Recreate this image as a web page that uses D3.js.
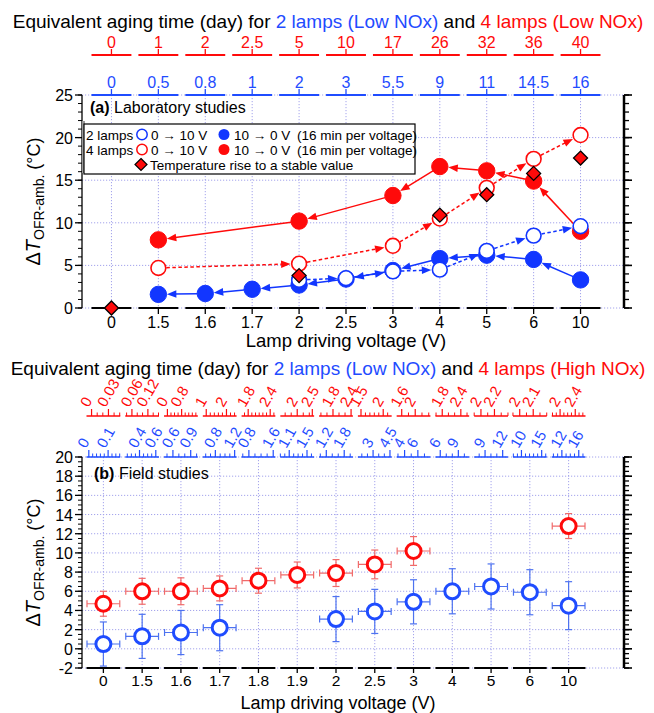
<!DOCTYPE html>
<html>
<head>
<meta charset="utf-8">
<script src="https://cdn.jsdelivr.net/npm/d3@7"></script>
<style>
  body { margin: 0; background: #fff; }
  svg text { font-family: "Liberation Sans", Arimo, Arial, sans-serif; }
</style>
</head>
<body>
<svg id="chart" width="654" height="713" font-family="Liberation Sans, Arimo, Arial, sans-serif"></svg>
<script>
//============== data ===============//

// (a) laboratory studies
const catsA = ["0", "1.5", "1.6", "1.7", "2", "2.5", "3", "4", "5", "6", "10"];
const redDaysA = ["0", "1", "2", "2.5", "5", "10", "17", "26", "32", "36", "40"];
const blueDaysA = ["0", "0.5", "0.8", "1", "2", "3", "5.5", "9", "11", "14.5", "16"];
const blueUpA   = [null, null, null, null, 3.3, 3.5, 4.3, 4.5, 6.7, 8.5, 9.6];   // 2 lamps 0 -> 10 V
const blueDownA = [null, 1.6, 1.7, 2.2, 2.7, 3.4, 4.4, 5.8, 6.2, 5.7, 3.3];      // 2 lamps 10 -> 0 V
const redUpA    = [null, 4.7, null, null, 5.2, null, 7.3, 10.5, 14.1, 17.5, 20.3]; // 4 lamps 0 -> 10 V
const redDownA  = [null, 8.0, null, null, 10.2, null, 13.2, 16.6, 16.1, 14.9, 9.0]; // 4 lamps 10 -> 0 V
const stableA   = [0, null, null, null, 3.8, null, null, 10.9, 13.3, 15.8, 17.6];

// (b) field studies
const catsB = ["0", "1.5", "1.6", "1.7", "1.8", "1.9", "2", "2.5", "3", "4", "5", "6", "10"];
const blueB    = [0.5, 1.3, 1.7, 2.2, null, null, 3.1, 3.9, 4.9, 6.0, 6.5, 5.9, 4.5];
const blueErrB = [2.3, 2.3, 2.3, 2.4, null, null, 2.35, 2.3, 2.3, 2.35, 2.35, 2.35, 2.5];
const redB     = [4.7, 6.0, 6.0, 6.3, 7.1, 7.7, 7.9, 8.8, 10.2, null, null, null, 12.8];
const redErrB  = [1.3, 1.35, 1.4, 1.3, 1.3, 1.35, 1.4, 1.5, 1.5, null, null, null, 1.3];

// aging time axes of (b): labelled ticks and span of each small axis (days)
const blueTicksB = [[0, 0.1], [0.4, 0.6], [0.6, 0.9], [0.8, 1.2], [0.8, 1.6], [1.1, 1.5], [1.2, 1.8],
                    [3, 4.5], [4, 6], [6, 9], [9, 12], [10, 15], [12, 16]];
const blueDomB = [[-0.012, 0.163], [0.225, 0.64], [0.45, 1.02], [0.54, 1.24], [0.56, 1.67], [0.9, 1.66], [0.96, 2.09],
                  [1.65, 4.65], [2.8, 7.9], [5.2, 10.8], [7.15, 12.9], [7.9, 16.25], [9.6, 17.6]];
const redTicksB = [[0, 0.03], [0.06, 0.12], [0, 0.8], [1, 2], [1.8, 2.4], [2, 2.5], [1.8, 2.4],
                   [1.5, 2], [1.6, 2], [1.8, 2.4], [2, 2.2], [2, 2.1], [2, 2.4]];
const redDomB = [[-0.009, 0.051], [0.035, 0.162], [-0.19, 1.71], [0.83, 2.5], [1.62, 2.54], [1.44, 2.56], [1.34, 2.46],
                 [1.43, 2.19], [1.45, 2.45], [1.58, 2.67], [1.9, 2.4], [1.95, 2.2], [1.78, 2.67]];

//============== env ===============//

const BLUE = "#1236ff", RED = "#ff0a0a", BLUE_T = "#1f4cff";
const GRID = "#a4a4ec";
const svg = d3.select("#chart");
const plotLeft = 82, plotRight = 624;

// ---- helpers
function title(y, redTail) {
  const t = svg.append("text").attr("x", 328).attr("y", y)
    .attr("text-anchor", "middle").style("font-size", "19px");
  t.append("tspan").attr("fill", "#000").text("Equivalent aging time (day) for ");
  t.append("tspan").attr("fill", BLUE_T).text("2 lamps (Low NOx)");
  t.append("tspan").attr("fill", "#000").text(" and ");
  t.append("tspan").attr("fill", RED).text("4 lamps (" + redTail + ")");
}

function xLabel(y, x, size) {
  svg.append("text").attr("x", x).attr("y", y).attr("text-anchor", "middle")
    .style("font-size", size + "px").text("Lamp driving voltage (V)");
}

function yLabel(cy) {
  const t = svg.append("text")
    .attr("transform", `translate(40,${cy}) rotate(-90)`)
    .attr("text-anchor", "middle").style("font-size", "20px");
  t.append("tspan").text("Δ");
  t.append("tspan").style("font-style", "italic").text("T");
  t.append("tspan").attr("dy", 4).style("font-size", "14px").text("OFR-amb.");
  t.append("tspan").attr("dy", -4).style("font-size", "18px").text(" (°C)");
}

function frame(y, top, bottom, major, minor, labelFmt) {
  const g = svg.append("g");
  // grid
  g.selectAll("hgrid").data(major).join("line")
    .attr("x1", plotLeft).attr("x2", plotRight)
    .attr("y1", d => y(d)).attr("y2", d => y(d))
    .attr("stroke", GRID).attr("stroke-dasharray", "1.2,1.8").attr("stroke-width", 1);
  // left axis
  g.append("line").attr("x1", plotLeft).attr("x2", plotLeft).attr("y1", top).attr("y2", bottom)
    .attr("stroke", "#000").attr("stroke-width", 1.3);
  g.selectAll("lmin").data(minor).join("line")
    .attr("x1", plotLeft - 4).attr("x2", plotLeft).attr("y1", d => y(d)).attr("y2", d => y(d))
    .attr("stroke", "#000").attr("stroke-width", 1);
  g.selectAll("lmaj").data(major).join("line")
    .attr("x1", plotLeft - 7).attr("x2", plotLeft).attr("y1", d => y(d)).attr("y2", d => y(d))
    .attr("stroke", "#000").attr("stroke-width", 1.3);
  g.selectAll("llab").data(major).join("text")
    .attr("x", plotLeft - 9).attr("y", d => y(d) + 6)
    .attr("text-anchor", "end").style("font-size", "16px").text(labelFmt);
  // right axis (no labels)
  g.append("line").attr("x1", plotRight).attr("x2", plotRight).attr("y1", top).attr("y2", bottom)
    .attr("stroke", "#000").attr("stroke-width", 2.5);
  g.selectAll("rmin").data(minor).join("line")
    .attr("x1", plotRight).attr("x2", plotRight + 5).attr("y1", d => y(d)).attr("y2", d => y(d))
    .attr("stroke", "#000").attr("stroke-width", 1.3);
  g.selectAll("rmaj").data(major).join("line")
    .attr("x1", plotRight).attr("x2", plotRight + 8).attr("y1", d => y(d)).attr("y2", d => y(d))
    .attr("stroke", "#000").attr("stroke-width", 1.6);
}

function vgrid(x, cats, top, bottom) {
  svg.append("g").selectAll("line").data(cats).join("line")
    .attr("x1", d => x(d) + x.bandwidth() / 2).attr("x2", d => x(d) + x.bandwidth() / 2)
    .attr("y1", top).attr("y2", bottom)
    .attr("stroke", GRID).attr("stroke-dasharray", "1.2,1.8").attr("stroke-width", 1);
}

// broken category axis: one short segment per category, tick in the middle
function segAxis(x, cats, yLine, color, dir, gap, labels, labelGap, width, tick, fs) {
  const g = svg.append("g");
  const bw = x.bandwidth();
  g.selectAll("seg").data(cats).join("line")
    .attr("x1", d => x(d) + gap / 2).attr("x2", d => x(d) + bw - gap / 2)
    .attr("y1", yLine).attr("y2", yLine)
    .attr("stroke", color).attr("stroke-width", width);
  g.selectAll("tk").data(cats).join("line")
    .attr("x1", d => x(d) + bw / 2).attr("x2", d => x(d) + bw / 2)
    .attr("y1", yLine).attr("y2", yLine + dir * tick)
    .attr("stroke", color).attr("stroke-width", 1.3);
  if (labels) {
    g.selectAll("lb").data(cats).join("text")
      .attr("x", d => x(d) + bw / 2).attr("y", yLine + labelGap)
      .attr("text-anchor", "middle").attr("fill", color).style("font-size", (fs || 16) + "px")
      .text((d, i) => labels[i]);
  }
}

function arrow(g, p, q, r0, r1, color, dashed) {
  const dx = q[0] - p[0], dy = q[1] - p[1], L = Math.hypot(dx, dy);
  const ux = dx / L, uy = dy / L;
  const sx = p[0] + ux * r0, sy = p[1] + uy * r0;
  const ex = q[0] - ux * r1, ey = q[1] - uy * r1;
  const hl = 9.5, hw = 3.8;
  g.append("line").attr("x1", sx).attr("y1", sy)
    .attr("x2", ex - ux * hl * 0.7).attr("y2", ey - uy * hl * 0.7)
    .attr("stroke", color).attr("stroke-width", 1.5)
    .attr("stroke-dasharray", dashed ? "3.5,2.5" : null);
  g.append("path")
    .attr("d", `M${ex},${ey}L${ex - ux * hl - uy * hw},${ey - uy * hl + ux * hw}` +
               `L${ex - ux * hl + uy * hw},${ey - uy * hl - ux * hw}Z`)
    .attr("fill", color);
}

function diamond(cx, cy, s) {
  return `M${cx},${cy - s}L${cx + s},${cy}L${cx},${cy + s}L${cx - s},${cy}Z`;
}

//============== (a) laboratory studies ===============//

const topA = 95, botA = 308;
const xA = d3.scaleBand().domain(catsA).range([88, 604]);
const yA = d3.scaleLinear().domain([0, 25]).range([botA, topA]);
const cA = i => xA(catsA[i]) + xA.bandwidth() / 2;

title(28, "Low NOx");
vgrid(xA, catsA, topA, botA);
frame(yA, topA, botA, d3.range(0, 26, 5), d3.range(0, 26, 1), d => d);
segAxis(xA, catsA, 55, RED, -1, 7, redDaysA, -7, 2, 6);
segAxis(xA, catsA, topA, BLUE_T, -1, 7, blueDaysA, -7, 2, 6);
segAxis(xA, catsA, botA, "#000", 1, 7, catsA, 20, 2, 6);
xLabel(347, 346, 18.5);
yLabel((topA + botA) / 2);

svg.append("text").attr("x", 90).attr("y", 113).style("font-size", "16px")
  .html('<tspan font-weight="bold">(a)</tspan> Laboratory studies');

// connected series with arrows in the scan direction
function series(vals, color, dashed, reverse) {
  const g = svg.append("g");
  let pts = vals.map((v, i) => v == null ? null : [cA(i), yA(v)]).filter(p => p);
  if (reverse) pts = pts.slice().reverse();
  for (let k = 0; k < pts.length - 1; k++) arrow(g, pts[k], pts[k + 1], 8, 8.5, color, dashed);
}
function dots(vals, color, filled) {
  svg.append("g").selectAll("circle").data(vals.map((v, i) => [i, v]).filter(d => d[1] != null))
    .join("circle")
    .attr("cx", d => cA(d[0])).attr("cy", d => yA(d[1]))
    .attr("r", filled ? 8.2 : 7.4)
    .attr("fill", filled ? color : "#fff")
    .attr("stroke", color).attr("stroke-width", filled ? 1 : 1.6);
}

series(redUpA, RED, true, false);
dots(redUpA, RED, false);
series(redDownA, RED, false, true);
dots(redDownA, RED, true);
series(blueDownA, BLUE, false, true);
dots(blueDownA, BLUE, true);
series(blueUpA, BLUE, true, false);
dots(blueUpA, BLUE, false);

svg.append("g").selectAll("path").data(stableA.map((v, i) => [i, v]).filter(d => d[1] != null))
  .join("path")
  .attr("d", d => diamond(cA(d[0]), yA(d[1]), 7))
  .attr("fill", RED).attr("stroke", "#000").attr("stroke-width", 1.3);

// legend
const lg = svg.append("g");
lg.append("rect").attr("x", 82).attr("y", 121).attr("width", 3).attr("height", 52).attr("fill", "#999");
lg.append("rect").attr("x", 84).attr("y", 124).attr("width", 331).attr("height", 50)
  .attr("fill", "#fff").attr("stroke", "#000").attr("stroke-width", 1.2);
[[BLUE, "2 lamps", 139.5], [RED, "4 lamps", 154.5]].forEach(([c, name, yy]) => {
  lg.append("text").attr("x", 86).attr("y", yy).style("font-size", "13.5px").text(name);
  lg.append("circle").attr("cx", 142).attr("cy", yy - 5).attr("r", 5.2)
    .attr("fill", "#fff").attr("stroke", c).attr("stroke-width", 1.5);
  lg.append("text").attr("x", 151).attr("y", yy).style("font-size", "13.5px").text("0 → 10 V");
  lg.append("circle").attr("cx", 224).attr("cy", yy - 5).attr("r", 5.5).attr("fill", c);
  lg.append("text").attr("x", 234).attr("y", yy).style("font-size", "13.5px").text("10 → 0 V");
  lg.append("text").attr("x", 297).attr("y", yy).style("font-size", "13.5px").text("(16 min per voltage)");
});
lg.append("path").attr("d", diamond(141, 164.5, 6)).attr("fill", RED).attr("stroke", "#000").attr("stroke-width", 1.2);
lg.append("text").attr("x", 150).attr("y", 169.5).style("font-size", "13.5px")
  .text("Temperature rise to a stable value");

//============== (b) field studies ===============//

const topB = 457, botB = 668;
const xB = d3.scaleBand().domain(catsB).range([84, 588]);
const yB = d3.scaleLinear().domain([-2, 20]).range([botB, topB]);
const cB = i => xB(catsB[i]) + xB.bandwidth() / 2;

title(375, "High NOx");
vgrid(xB, catsB, topB, botB);
frame(yB, topB, botB, d3.range(-2, 21, 2), d3.range(-2, 20.01, 0.5), d => d);
segAxis(xB, catsB, botB, "#000", 1, 5, catsB, 18, 2, 5, 15.5);
xLabel(709, 338, 18);
yLabel((topB + botB) / 2);

// small aging-time axes on top, one per voltage
function agingAxes(yLine, doms, ticks, color) {
  const g = svg.append("g");
  const bw = xB.bandwidth();
  catsB.forEach((c, i) => {
    const s = d3.scaleLinear().domain(doms[i]).range([xB(c) + 2.5, xB(c) + bw - 2.5]);
    g.append("line").attr("x1", s.range()[0]).attr("x2", s.range()[1])
      .attr("y1", yLine).attr("y2", yLine).attr("stroke", color).attr("stroke-width", 1.6);
    const minor = s.ticks(7).filter(t => !ticks[i].some(m => Math.abs(m - t) < 1e-9));
    g.selectAll("mn").data(minor).join("line")
      .attr("x1", d => s(d)).attr("x2", d => s(d)).attr("y1", yLine).attr("y2", yLine - 3.5)
      .attr("stroke", color).attr("stroke-width", 1);
    g.selectAll("mj").data(ticks[i]).join("line")
      .attr("x1", d => s(d)).attr("x2", d => s(d)).attr("y1", yLine).attr("y2", yLine - 7)
      .attr("stroke", color).attr("stroke-width", 1.2);
    g.selectAll("lb").data(ticks[i]).join("text")
      .attr("transform", d => `translate(${s(d) - 3},${yLine - 8}) rotate(-60)`)
      .attr("fill", color).style("font-size", "15px").text(d => d);
  });
}
agingAxes(416, redDomB, redTicksB, RED);
agingAxes(topB, blueDomB, blueTicksB, BLUE_T);

svg.append("text").attr("x", 94).attr("y", 479).style("font-size", "16px")
  .html('<tspan font-weight="bold">(b)</tspan> Field studies');

// markers with error bars
function errPoints(vals, errs, color, errColor) {
  const g = svg.append("g");
  const hw = xB.bandwidth() / 2 - 3;
  const pts = vals.map((v, i) => [i, v, errs[i]]).filter(d => d[1] != null);
  const ln = (x1, y1, x2, y2) => g.append("line")
    .attr("x1", x1).attr("y1", y1).attr("x2", x2).attr("y2", y2)
    .attr("stroke", errColor).attr("stroke-width", 1.2);
  pts.forEach(([i, v, e]) => {
    const cx = cB(i), cy = yB(v), y0 = yB(v - e), y1 = yB(v + e);
    ln(cx, y0, cx, y1);
    ln(cx - 3.5, y0, cx + 3.5, y0);
    ln(cx - 3.5, y1, cx + 3.5, y1);
    ln(cx - hw, cy, cx + hw, cy);
    ln(cx - hw, cy - 3.5, cx - hw, cy + 3.5);
    ln(cx + hw, cy - 3.5, cx + hw, cy + 3.5);
  });
  g.selectAll("circle").data(pts).join("circle")
    .attr("cx", d => cB(d[0])).attr("cy", d => yB(d[1])).attr("r", 7.5)
    .attr("fill", "#fff").attr("stroke", color).attr("stroke-width", 3);
}
errPoints(blueB, blueErrB, BLUE_T, "#4d72f0");
errPoints(redB, redErrB, RED, "#f06a6a");
</script>
</body>
</html>
